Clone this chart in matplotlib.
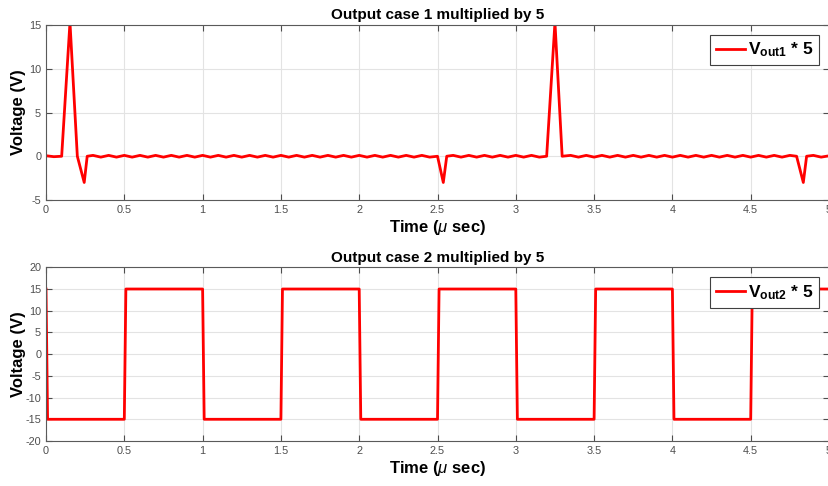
import matplotlib.pyplot as plt

plt.rcParams['font.family'] = ['Liberation Sans', 'DejaVu Sans']
plt.rcParams['mathtext.fontset'] = 'custom'
plt.rcParams['mathtext.rm'] = 'Liberation Sans'
plt.rcParams['mathtext.it'] = 'Liberation Sans:italic'
plt.rcParams['mathtext.bf'] = 'Liberation Sans:bold'
plt.rcParams['axes.unicode_minus'] = False

# Caso 1: picos cortos sobre un nivel casi nulo con rizado
t1 = [0.00, 0.05, 0.10, 0.153, 0.20, 0.244, 0.263,
      0.30, 0.35, 0.40, 0.45, 0.50, 0.55, 0.60, 0.65, 0.70, 0.75,
      0.80, 0.85, 0.90, 0.95, 1.00, 1.05, 1.10, 1.15, 1.20, 1.25,
      1.30, 1.35, 1.40, 1.45, 1.50, 1.55, 1.60, 1.65, 1.70, 1.75,
      1.80, 1.85, 1.90, 1.95, 2.00, 2.05, 2.10, 2.15, 2.20, 2.25,
      2.30, 2.35, 2.40, 2.45, 2.50, 2.537, 2.559,
      2.60, 2.65, 2.70, 2.75, 2.80, 2.85, 2.90, 2.95, 3.00, 3.05,
      3.10, 3.15, 3.197, 3.25, 3.296,
      3.35, 3.40, 3.45, 3.50, 3.55, 3.60, 3.65, 3.70, 3.75, 3.80,
      3.85, 3.90, 3.95, 4.00, 4.05, 4.10, 4.15, 4.20, 4.25, 4.30,
      4.35, 4.40, 4.45, 4.50, 4.55, 4.60, 4.65, 4.70, 4.75,
      4.793, 4.836, 4.857, 4.90, 4.95, 5.00]
v1 = [0.06, -0.05, 0.0, 15.3, 0.0, -3.0, 0.0,
      0.1, -0.1, 0.1, -0.1, 0.1, -0.1, 0.1, -0.1, 0.1, -0.1,
      0.1, -0.1, 0.1, -0.1, 0.1, -0.1, 0.1, -0.1, 0.1, -0.1,
      0.1, -0.1, 0.1, -0.1, 0.1, -0.1, 0.1, -0.1, 0.1, -0.1,
      0.1, -0.1, 0.1, -0.1, 0.1, -0.1, 0.1, -0.1, 0.1, -0.1,
      0.1, -0.1, 0.1, -0.1, 0.0, -3.0, 0.0,
      0.1, -0.1, 0.1, -0.1, 0.1, -0.1, 0.1, -0.1, 0.1, -0.1,
      0.1, -0.1, 0.0, 15.3, 0.0,
      0.1, -0.1, 0.1, -0.1, 0.1, -0.1, 0.1, -0.1, 0.1, -0.1,
      0.1, -0.1, 0.1, -0.1, 0.1, -0.1, 0.1, -0.1, 0.1, -0.1,
      0.1, -0.1, 0.1, -0.1, 0.1, -0.1, 0.1, -0.1, 0.1,
      0.0, -3.0, 0.0, 0.1, -0.1, 0.05]

# Caso 2: onda cuadrada de +/-15 V
t2 = [0.00, 0.01, 0.50, 0.51, 1.00, 1.01, 1.50, 1.51, 2.00, 2.01,
      2.50, 2.51, 3.00, 3.01, 3.50, 3.51, 4.00, 4.01, 4.50, 4.51, 5.00]
v2 = [15, -15, -15, 15, 15, -15, -15, 15, 15, -15,
      -15, 15, 15, -15, -15, 15, 15, -15, -15, 15, 15]

x_ticks = [0, 0.5, 1, 1.5, 2, 2.5, 3, 3.5, 4, 4.5, 5]
y_ticks1 = [-5, 0, 5, 10, 15]
y_ticks2 = [-20, -15, -10, -5, 0, 5, 10, 15, 20]


def style_axes(ax, title, yticks):
    ax.set_xlim(0, 5)
    ax.set_ylim(yticks[0], yticks[-1])
    ax.set_xticks(x_ticks)
    ax.set_xticklabels([f'{x:g}' for x in x_ticks])
    ax.set_yticks(yticks)
    ax.grid(True, color='#e3e3e3', linewidth=0.8)
    ax.set_axisbelow(True)
    ax.tick_params(direction='in', top=True, right=True, length=4,
                   labelsize=7.8, colors='#4d4d4d', width=0.8)
    for s in ax.spines.values():
        s.set_color('#5a5a5a')
        s.set_linewidth(0.8)
    ax.set_title(title, fontsize=11, fontweight='bold', pad=4)
    ax.set_xlabel(r'Time ($\mu$ sec)', fontsize=12, fontweight='bold', labelpad=2)
    ax.set_ylabel('Voltage (V)', fontsize=12, fontweight='bold')
    ax.yaxis.set_label_coords(-0.026, 0.5)
    leg = ax.legend(loc='upper right', prop={'weight': 'bold', 'size': 12.5},
                    fancybox=False, framealpha=1, edgecolor='#404040',
                    handlelength=1.7, handletextpad=0.15,
                    borderpad=0.35, borderaxespad=0.55)
    leg.get_frame().set_linewidth(0.8)


fig = plt.figure(figsize=(8.29, 4.86), dpi=100)
ax1 = fig.add_axes([0.0555, 0.5885, 0.9445, 0.3600])
ax2 = fig.add_axes([0.0555, 0.0926, 0.9445, 0.3574])

ax1.plot(t1, v1, color='red', linewidth=2, label=r'$\mathbf{V_{out1}}$ * 5')
style_axes(ax1, 'Output case 1 multiplied by 5', y_ticks1)

ax2.plot(t2, v2, color='red', linewidth=2, label=r'$\mathbf{V_{out2}}$ * 5')
style_axes(ax2, 'Output case 2 multiplied by 5', y_ticks2)

fig.savefig('out.png', dpi=100)
